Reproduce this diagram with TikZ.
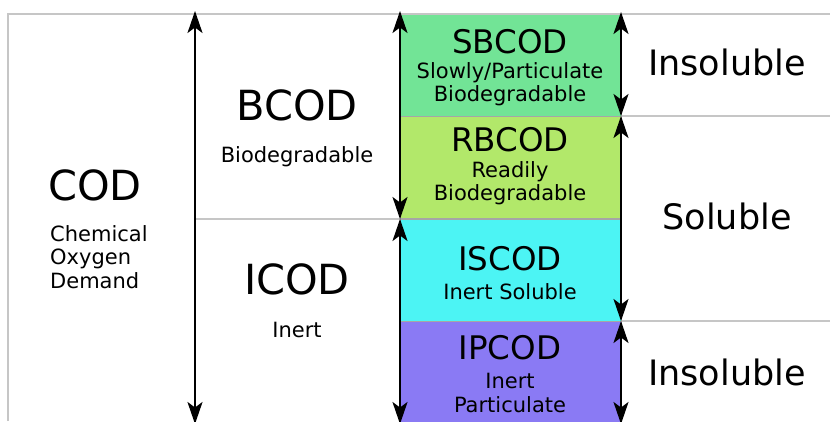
\documentclass[tikz,border=0pt]{standalone}
\usepackage{fontspec}
\setmainfont{DejaVu Sans}
\usetikzlibrary{arrows.meta}
\definecolor{sbgreen}{RGB}{114,228,150}
\definecolor{rbgreen}{RGB}{178,232,106}
\definecolor{iscyan}{RGB}{76,244,244}
\definecolor{ippurple}{RGB}{138,122,244}
\tikzset{
  codtip/.tip={Stealth[length=22pt, width=15pt, inset=5.5pt]},
  big/.style={font=\fontsize{41.5}{48}\selectfont, inner sep=0pt},
  mid/.style={font=\fontsize{32.5}{38}\selectfont, inner sep=0pt},
  side/.style={font=\fontsize{35}{40}\selectfont, inner sep=0pt},
  small/.style={font=\fontsize{21}{23.5}\selectfont, inner sep=0pt, align=center},
  part/.style={draw=gray!70, line width=0.8pt, minimum width=221pt, minimum height=102pt, inner sep=0pt},
  grid/.style={draw=gray!45, line width=1.2pt},
  extent/.style={line width=2pt, codtip-codtip}
}
\begin{document}
\begin{tikzpicture}[x=1pt, y=-1pt]
\useasboundingbox (0,0) rectangle (830,421);
% colour column
\node[part, fill=sbgreen] (sb) at (510.5,65.5){};
\node[part, fill=rbgreen] (rb) at (510.5,167.5){};
\node[part, fill=iscyan] (is) at (510.5,270){};
\node[part, fill=ippurple] (ip) at (510.5,372.5){};
% grey frame
\coordinate (tl) at (8,14);
\coordinate (tr) at (830,14);
\coordinate (bl) at (8,421);
\coordinate (mid1) at (195,219);
\coordinate (mid2) at (400,219);
\coordinate (r1a) at (621,116);
\coordinate (r1b) at (830,116);
\coordinate (r2a) at (621,321);
\coordinate (r2b) at (830,321);
\draw[grid](bl) -- (tl) -- (tr);
\draw[grid](mid1) -- (mid2);
\draw[grid](r1a) -- (r1b);
\draw[grid](r2a) -- (r2b);
% arrows
\coordinate (a0) at (195,11);
\coordinate (a1) at (195,424);
\draw[extent](a0) -- (a1);
\coordinate (b0) at (400,11);
\coordinate (b1) at (400,219);
\coordinate (b2) at (400,424);
\draw[extent](b0) -- (b1);
\draw[extent](b1) -- (b2);
\coordinate (c0) at (621,12);
\coordinate (c1) at (621,116);
\coordinate (c2) at (621,321);
\coordinate (c3) at (621,424);
\draw[extent](c0) -- (c1);
\draw[extent](c1) -- (c2);
\draw[extent](c2) -- (c3);
% labels
\node[big] (cod) at (95,185){COD};
\node[small, align=left, anchor=north west] (codtxt) at (50,225){Chemical\\Oxygen\\Demand};
\node[big] (bcod) at (297,105){BCOD};
\node[small] (bcodtxt) at (297,157){Biodegradable};
\node[big] (icod) at (297,279){ICOD};
\node[small] (icodtxt) at (297,330){Inert};
\node[mid] (sbcod) at (510,42){SBCOD};
\node[small] (sbtxt) at (510,84){Slowly/Particulate\\Biodegradable};
\node[mid] (rbcod) at (510,140){RBCOD};
\node[small] (rbtxt) at (510,183){Readily\\Biodegradable};
\node[mid] (iscod) at (510,259){ISCOD};
\node[small] (istxt) at (510,292){Inert Soluble};
\node[mid] (ipcod) at (510,348){IPCOD};
\node[small] (iptxt) at (510,393){Inert\\Particulate};
\node[side] (ins1) at (727,62){Insoluble};
\node[side] (sol) at (727,216){Soluble};
\node[side] (ins2) at (727,372){Insoluble};
\end{tikzpicture}
\end{document}
